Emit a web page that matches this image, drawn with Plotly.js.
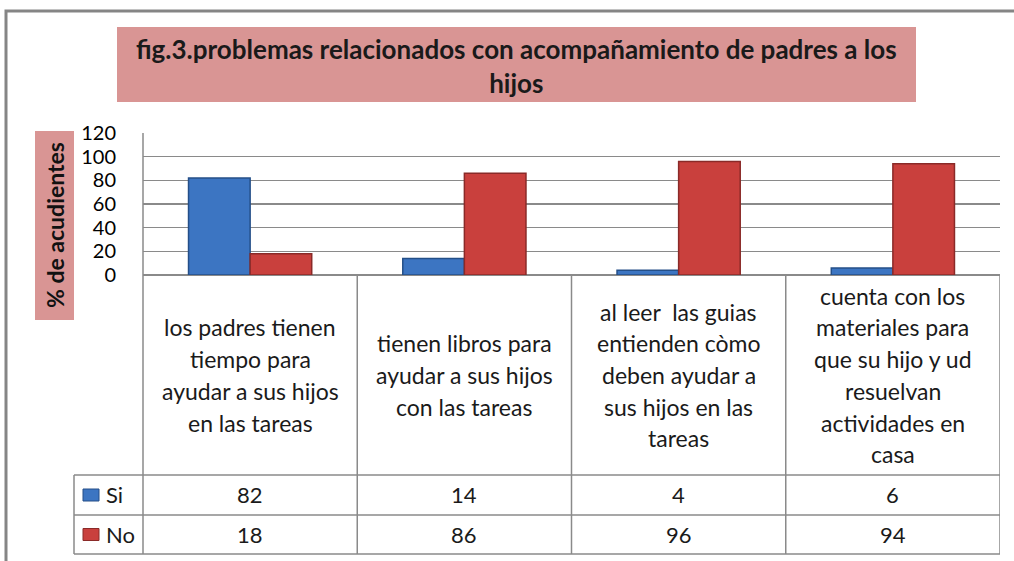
<!DOCTYPE html>
<html><head><meta charset="utf-8">
<script src="https://cdn.plot.ly/plotly-3.0.1.min.js"></script>
<style>html,body{margin:0;padding:0;background:#fff;}#chart{width:1014px;height:561px;}</style>
</head><body><div id="chart"></div>
<script>
const categories = [
  "los padres tienen\ntiempo para\nayudar a sus hijos\nen las tareas",
  "tienen libros para\nayudar a sus hijos\ncon las tareas",
  "al leer  las guias\nentienden còmo\ndeben ayudar a\nsus hijos en las\ntareas",
  "cuenta con los\nmateriales para\nque su hijo y ud\nresuelvan\nactividades en\ncasa"
];
const seriesNames = ["Si", "No"];
const siValues = [82, 14, 4, 6];
const noValues = [18, 86, 96, 94];
const yTicks = [0, 20, 40, 60, 80, 100, 120];
const titleText = "fig.3.problemas relacionados con acompañamiento de padres a los<br>hijos";
const yTitleText = "% de acudientes";

const W = 1014, H = 561;
const L = 143, R = 14, T = 133, B = 286;
const pw = W - L - R, ph = H - T - B;
const xp = px => (px - L) / pw;
const yp = py => (H - B - py) / ph;

const FONT = "Lato, 'Open Sans', sans-serif";
const txt = "#1a1a1a";
const grid = "#8a8a8a";
const fills = ["#3c75c2", "#c9403d"];
const edges = ["#244f88", "#8a2a28"];
const catKeys = categories.map((c, i) => "c" + i);

const traces = [siValues, noValues].map((vals, s) => ({
  type: "bar", name: seriesNames[s], x: catKeys, y: vals,
  marker: {color: fills[s], line: {color: edges[s], width: 1.5}},
  hoverinfo: "none"
}));

const shapes = [];
const annotations = [];

// outer border
shapes.push({type: "rect", xref: "paper", yref: "paper", x0: xp(6), x1: xp(1030), y0: yp(11), y1: yp(580),
  line: {color: "#858585", width: 3}, fillcolor: "rgba(0,0,0,0)", layer: "below"});
// title box
shapes.push({type: "rect", xref: "paper", yref: "paper", x0: xp(117), x1: xp(916), y0: yp(27), y1: yp(102),
  line: {width: 0}, fillcolor: "#d99594"});
annotations.push({xref: "paper", yref: "paper", x: xp(516), y: yp(66), text: titleText, showarrow: false,
  font: {family: FONT, size: 26, color: "#1a1a1a", weight: "bold"}, xanchor: "center", yanchor: "middle"});
// y title box
shapes.push({type: "rect", xref: "paper", yref: "paper", x0: xp(35), x1: xp(74), y0: yp(131), y1: yp(320),
  line: {width: 0}, fillcolor: "#d99594"});
annotations.push({xref: "paper", yref: "paper", x: xp(55), y: yp(225), text: yTitleText, showarrow: false,
  textangle: -90, font: {family: FONT, size: 23, color: "#111", weight: "bold"}, xanchor: "center", yanchor: "middle"});

// table lines
const rowCat = 475, rowSi = 515, rowNo = 554, legL = 74;
const lc = {color: grid, width: 1.5};
[rowCat, rowSi, rowNo].forEach(py => shapes.push({type: "line", xref: "paper", yref: "paper",
  x0: xp(legL), x1: xp(1000), y0: yp(py), y1: yp(py), line: lc}));
shapes.push({type: "line", xref: "paper", yref: "paper", x0: xp(legL), x1: xp(legL), y0: yp(rowCat), y1: yp(rowNo), line: lc});
shapes.push({type: "line", xref: "paper", yref: "paper", x0: 0, x1: 0, y0: 1, y1: yp(rowNo), line: lc});
for (let i = 0; i < categories.length; i++) {
  shapes.push({type: "line", xref: "x", yref: "paper", x0: i + 0.5, x1: i + 0.5, y0: 0, y1: yp(rowNo), line: lc});
}

// category labels
categories.forEach((c, i) => {
  const lines = c.split("\n");
  const center = 375, lh = 31.7;
  lines.forEach((ln, k) => {
    annotations.push({xref: "x", yref: "paper", x: i, y: yp(center + (k - (lines.length - 1) / 2) * lh),
      text: ln, showarrow: false, font: {family: FONT, size: 23, color: txt}, xanchor: "center", yanchor: "middle"});
  });
});
// data rows
const rowsCenters = [(rowCat + rowSi) / 2, (rowSi + rowNo) / 2];
[siValues, noValues].forEach((vals, s) => {
  vals.forEach((v, i) => annotations.push({xref: "x", yref: "paper", x: i, y: yp(rowsCenters[s]), text: String(v),
    showarrow: false, font: {family: FONT, size: 22, color: txt}, xanchor: "center", yanchor: "middle"}));
  shapes.push({type: "rect", xref: "paper", yref: "paper", x0: xp(83), x1: xp(99),
    y0: yp(rowsCenters[s] - 6), y1: yp(rowsCenters[s] + 6), fillcolor: fills[s], line: {color: edges[s], width: 1}});
  annotations.push({xref: "paper", yref: "paper", x: xp(104), y: yp(rowsCenters[s]), text: seriesNames[s],
    showarrow: false, font: {family: FONT, size: 22, color: txt}, xanchor: "left", yanchor: "middle"});
});

const layout = {
  width: W, height: H, margin: {l: L, r: R, t: T, b: B, pad: 0},
  paper_bgcolor: "#fff", plot_bgcolor: "#fff", showlegend: false,
  barmode: "group", bargap: 0.425, bargroupgap: 0,
  xaxis: {type: "category", range: [-0.5, 3.5], showticklabels: false, showgrid: false, zeroline: false,
    showline: false, ticks: ""},
  yaxis: {range: [0, 120], tickvals: yTicks, ticktext: yTicks.map(String), showgrid: true, gridcolor: grid, gridwidth: 1.5,
    zeroline: true, zerolinecolor: grid, zerolinewidth: 1.5, showline: false, ticks: "",
    ticklabelstandoff: 26, tickfont: {family: FONT, size: 20, color: "#000"}},
  shapes, annotations
};
Plotly.newPlot("chart", traces, layout, {staticPlot: true});
</script></body></html>
